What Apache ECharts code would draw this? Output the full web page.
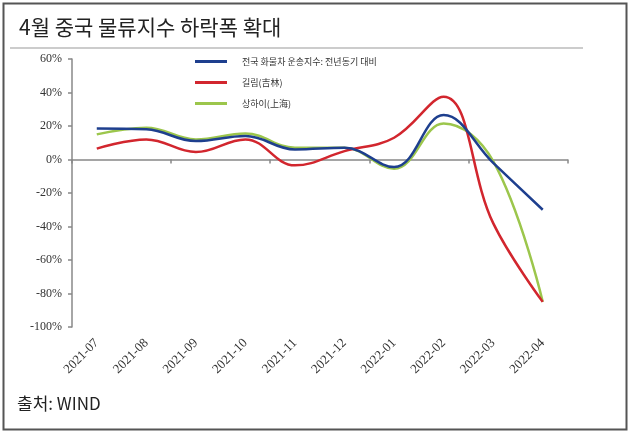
<!DOCTYPE html>
<html><head><meta charset="utf-8">
<script src="https://cdn.jsdelivr.net/npm/echarts@6/dist/echarts.min.js"></script>
<style>html,body{margin:0;padding:0;background:#fff}#c{width:630px;height:433px}</style>
</head><body><div id="c"></div>
<script>
const categories = ['2021-07','2021-08','2021-09','2021-10','2021-11','2021-12','2022-01','2022-02','2022-03','2022-04'];
const seriesNames = ['전국 화물차 운송지수: 전년동기 대비','길림(吉林)','상하이(上海)'];
const national = [18.5, 18, 11, 14, 6, 7, -4.5, 26.5, -2, -30];
const jilin = [6.5, 12, 4.5, 12, -3.5, 5, 13, 37.5, -38, -85];
const shanghai = [15, 19, 12, 15.5, 7, 7, -5.5, 21.5, -1, -85];
const yTicks = {min: -100, max: 60, interval: 20};

const chart = echarts.init(document.getElementById('c'));
const serif = 'Liberation Serif, Times New Roman, serif';
chart.setOption({
  animation: false,
  backgroundColor: '#fff',
  title: {
    text: '4월 중국 물류지수 하락폭 확대',
    left: 14, top: 12,
    textStyle: {fontFamily: 'Noto Sans CJK KR', fontSize: 21, fontWeight: 'normal', color: '#222'}
  },
  graphic: [
    {type: 'rect', shape: {x: 3.5, y: 3.5, width: 623, height: 426}, style: {fill: 'none', stroke: '#555', lineWidth: 2}, z: 100},
    {type: 'line', shape: {x1: 10, y1: 48, x2: 583, y2: 48}, style: {stroke: '#ccc', lineWidth: 2}},
    {type: 'text', left: 17, top: 395, style: {text: '출처: WIND', fontFamily: 'Noto Sans CJK KR', fontSize: 17, fill: '#222'}}
  ],
  legend: {
    orient: 'vertical', left: 190, top: 52,
    itemWidth: 32, itemHeight: 3, itemGap: 12, icon: 'rect',
    textStyle: {fontFamily: 'Noto Sans CJK KR', fontSize: 9, color: '#333', padding: [0, 0, 0, 10]},
    data: seriesNames
  },
  grid: {left: 72, right: 62.5, top: 59, bottom: 106, containLabel: false},
  xAxis: [
    {type: 'category', data: categories, position: 'bottom',
     axisLine: {show: false, onZero: false}, axisTick: {show: false},
     axisLabel: {rotate: 45, margin: 14, fontFamily: serif, fontSize: 13, color: '#333', interval: 0}},
    {type: 'category', data: categories, position: 'top',
     axisLine: {show: true, onZero: true, lineStyle: {color: '#888', width: 1.5}},
     axisTick: {show: true, inside: true, length: 4, lineStyle: {color: '#888', width: 1.5}},
     axisLabel: {show: false}}
  ],
  yAxis: {
    type: 'value', min: yTicks.min, max: yTicks.max, interval: yTicks.interval,
    splitLine: {show: false},
    axisLine: {show: true, lineStyle: {color: '#888', width: 1.5}},
    axisTick: {show: true, length: 4, lineStyle: {color: '#888', width: 1.5}},
    axisLabel: {formatter: '{value}%', margin: 10, fontFamily: serif, fontSize: 12, color: '#333'}
  },
  series: [
    {name: seriesNames[0], type: 'line', data: national, smooth: 0.4, showSymbol: false, color: '#1e3f8e', lineStyle: {width: 2.5}, z: 3},
    {name: seriesNames[1], type: 'line', data: jilin, smooth: 0.4, showSymbol: false, color: '#d2262e', lineStyle: {width: 2.5}, z: 2},
    {name: seriesNames[2], type: 'line', data: shanghai, smooth: 0.4, showSymbol: false, color: '#9cc64c', lineStyle: {width: 2.5}, z: 1}
  ]
});
</script></body></html>
